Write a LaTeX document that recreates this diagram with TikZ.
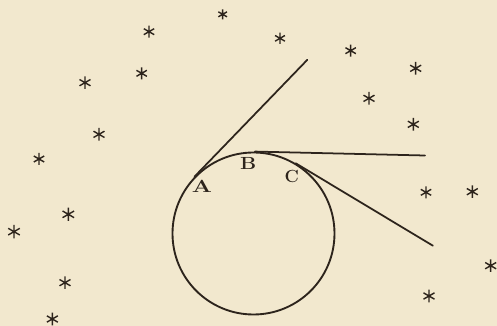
\documentclass[tikz,border=0pt]{standalone}
\usepackage{xcolor}
\usepackage{tikz}
\usetikzlibrary{positioning,calc}

\definecolor{paper}{RGB}{242,232,206}
\definecolor{ink}{RGB}{45,36,28}

\begin{document}
\begin{tikzpicture}[
  font=\fontsize{15}{15}\selectfont,
  orb/.style={draw=ink, circle, line width=1.6pt, minimum size=4.86cm, inner sep=0pt},
  tline/.style={draw=ink, line width=1.5pt, line cap=round},
  lbl/.style={text=ink, inner sep=0pt, font=\fontsize{15}{15}\selectfont\bfseries},
  starline/.style={draw=ink, line width=1.2pt}
]
\fill[paper] (0,0) rectangle (14.91,9.78);
\useasboundingbox (0,0) rectangle (14.91,9.78);

% the stars
\foreach \x/\y/\r [count=\i] in {6.68/9.35/0.15, 4.47/8.83/0.18, 8.40/8.63/0.17, 10.52/8.26/0.18,
  12.47/7.73/0.19, 4.25/7.58/0.18, 2.55/7.30/0.19, 11.07/6.83/0.19, 12.40/6.05/0.19,
  2.97/5.75/0.19, 1.17/5.01/0.18, 12.78/4.01/0.18, 14.17/4.03/0.19, 2.05/3.35/0.2,
  0.42/2.83/0.2, 14.72/1.81/0.19, 1.95/1.30/0.19, 12.87/0.90/0.19, 1.57/0.21/0.19}{
  \coordinate (s\i) at (\x,\y);
  \draw[starline] (s\i) +(90:\r) -- +(270:\r) +(30:\r) -- +(210:\r) +(150:\r) -- +(330:\r);
}

% circle and tangents
\node[orb] (O) at (7.605,2.775) {};
\coordinate (Aend) at ($(O.136)+(46:4.87)$);
\coordinate (Bend) at (12.75,5.115);
\coordinate (Cend) at ($(O.59)+(-31:4.8)$);
\draw[tline] (O.136) -- (Aend);
\draw[tline] (O.89) -- (Bend);
\draw[tline] (O.59) -- (Cend);

\node[lbl, xscale=1.35] (labA) at (6.06,4.19) {A};
\node[lbl, xscale=1.15] (labB) at (7.45,4.88) {B};
\node[lbl] (labC) at (8.75,4.50) {C};
\end{tikzpicture}
\end{document}
